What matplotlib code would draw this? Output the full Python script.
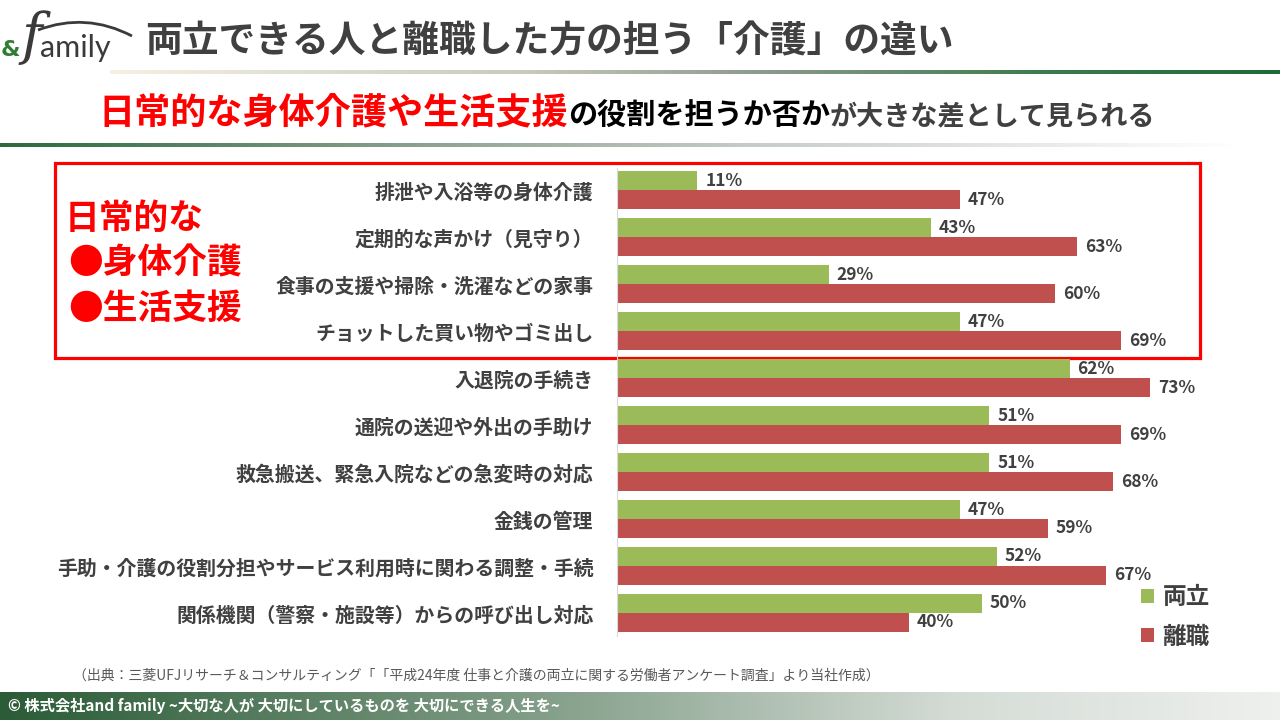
import numpy as np
import matplotlib.pyplot as plt
from matplotlib.colors import LinearSegmentedColormap
from matplotlib.patches import Rectangle, PathPatch
from matplotlib.path import Path

plt.rcParams['font.family'] = ['Noto Sans CJK JP', 'DejaVu Sans']

# DATA ---------------------------------------------------------------
categories = [
    '排泄や入浴等の身体介護',
    '定期的な声かけ（見守り）',
    '食事の支援や掃除・洗濯などの家事',
    'チョットした買い物やゴミ出し',
    '入退院の手続き',
    '通院の送迎や外出の手助け',
    '救急搬送、緊急入院などの急変時の対応',
    '金銭の管理',
    '手助・介護の役割分担やサービス利用時に関わる調整・手続',
    '関係機関（警察・施設等）からの呼び出し対応',
]
ryoritsu = [11, 43, 29, 47, 62, 51, 51, 47, 52, 50]   # 両立
rishoku = [47, 63, 60, 69, 73, 69, 68, 59, 67, 40]    # 離職
series_names = ['両立', '離職']

title = '両立できる人と離職した方の担う「介護」の違い'
subtitle_parts = [('日常的な身体介護や生活支援', '#ff0000', 26),
                  ('の役割を担うか否か', '#000000', 21),
                  ('が大きな差として見られる', '#404040', 19.5)]
box_lines = ['日常的な', '●身体介護', '●生活支援']
source = '（出典：三菱UFJリサーチ＆コンサルティング「「平成24年度 仕事と介護の両立に関する労働者アンケート調査」より当社作成）'
footer = '© 株式会社and family ~大切な人が 大切にしているものを 大切にできる人生を~'

GREEN = '#9bbb59'
RED = '#c0504d'
GRAY = '#404040'

fig = plt.figure(figsize=(12.8, 7.2), dpi=100)

# background axes in pixel coordinates
bg = fig.add_axes([0, 0, 1, 1])
bg.axis('off')


def gradient(x0, x1, y0, y1, stops):
    cm = LinearSegmentedColormap.from_list('g', stops)
    bg.imshow(np.linspace(0, 1, 256)[None, :], cmap=cm, aspect='auto',
              extent=[x0, x1, y1, y0], interpolation='bilinear')


gradient(110, 1280, 70, 74, [(0, '#f3f1e0'), (0.35, '#c9cbbd'), (0.55, '#8e9c8e'),
                             (0.8, '#3d7a4f'), (1, '#1f6a37')])
gradient(0, 1240, 143, 147, [(0, '#2a6b3e'), (0.35, '#8fa392'), (0.6, '#c5cbc6'),
                             (1, '#ffffff')])
gradient(0, 1280, 692, 720, [(0, '#2b5c37'), (0.4, '#7d9a83'), (0.75, '#d5dcd6'),
                             (1, '#eef0ee')])
bg.set_xlim(0, 1280)
bg.set_ylim(720, 0)

# logo
bg.text(1, 50, '&', color='#2e7d32', fontsize=16, fontweight='bold', va='center',
        family='DejaVu Sans')
bg.text(21, 38, 'f', color='#3a3a3a', fontsize=40, fontstyle='italic', va='center',
        family='DejaVu Serif')
bg.text(40, 48, 'amily', color='#3a3a3a', fontsize=22, va='center', family='Lato')
arc = Path([(38, 30), (86, 12), (132, 36)], [Path.MOVETO, Path.CURVE3, Path.CURVE3])
bg.add_patch(PathPatch(arc, fill=False, ec='#3a3a3a', lw=2))

# title
bg.text(145, 42, title, color=GRAY, fontsize=26.5, fontweight='bold', va='center')

# subtitle made of coloured pieces
r = fig.canvas.get_renderer()
x = 98
for txt, col, size in subtitle_parts:
    t = bg.text(x, 124, txt, color=col, fontsize=size, fontweight='bold', va='baseline')
    x += t.get_window_extent(renderer=r).width

# red box with the highlight text
bg.add_patch(Rectangle((55, 163), 1145, 195, fill=False, ec='#ff0000', lw=2.3))
for txt, yy, xx in zip(box_lines, [218, 263, 308], [65, 68, 68]):
    bg.text(xx, yy, txt, color='#ff0000', fontsize=25, fontweight='bold', va='center')

# source and footer
bg.text(73, 676, source, color='#595959', fontsize=10, va='center')
bg.text(8, 706, footer, color='white', fontsize=11, fontweight='bold', va='center')

# CHART ----------------------------------------------------------------
px_per_pct = 7.3
ax = fig.add_axes([617 / 1280, (720 - 636) / 720, (1280 - 617) / 1280, 468 / 720])
ax.set_facecolor('none')
y = np.arange(len(categories))
h = 0.404
b1 = ax.barh(y - h / 2, ryoritsu, height=h, color=GREEN, label=series_names[0])
b2 = ax.barh(y + h / 2, rishoku, height=h, color=RED, label=series_names[1])
for yy, v in zip(y, ryoritsu):
    ax.text(v + 8 / px_per_pct, yy - h / 2, f'{v}%', va='center', ha='left',
            fontsize=12.5, fontweight='bold', color=GRAY)
for yy, v in zip(y, rishoku):
    ax.text(v + 8 / px_per_pct, yy + h / 2, f'{v}%', va='center', ha='left',
            fontsize=12.5, fontweight='bold', color=GRAY)

ax.set_xlim(0, (1280 - 617) / px_per_pct)
ax.set_ylim(9.49, -0.47)
ax.set_yticks(y, categories)
ax.set_xticks([])
ax.tick_params(axis='y', length=0, pad=17, labelsize=14.3, labelcolor=GRAY)
for lab in ax.get_yticklabels():
    lab.set_fontweight('bold')
for s in ['top', 'right', 'bottom']:
    ax.spines[s].set_visible(False)
ax.spines['left'].set_color('#d9d9d9')

fig.legend(handles=[b1, b2], loc='center left', bbox_to_anchor=(1120 / 1280, 1 - 617 / 720),
           frameon=False, prop={'size': 17, 'weight': 'bold'}, labelcolor=GRAY,
           handlelength=0.55, handleheight=0.55, handletextpad=0.35, labelspacing=0.65)

fig.savefig('out.png', dpi=100)
